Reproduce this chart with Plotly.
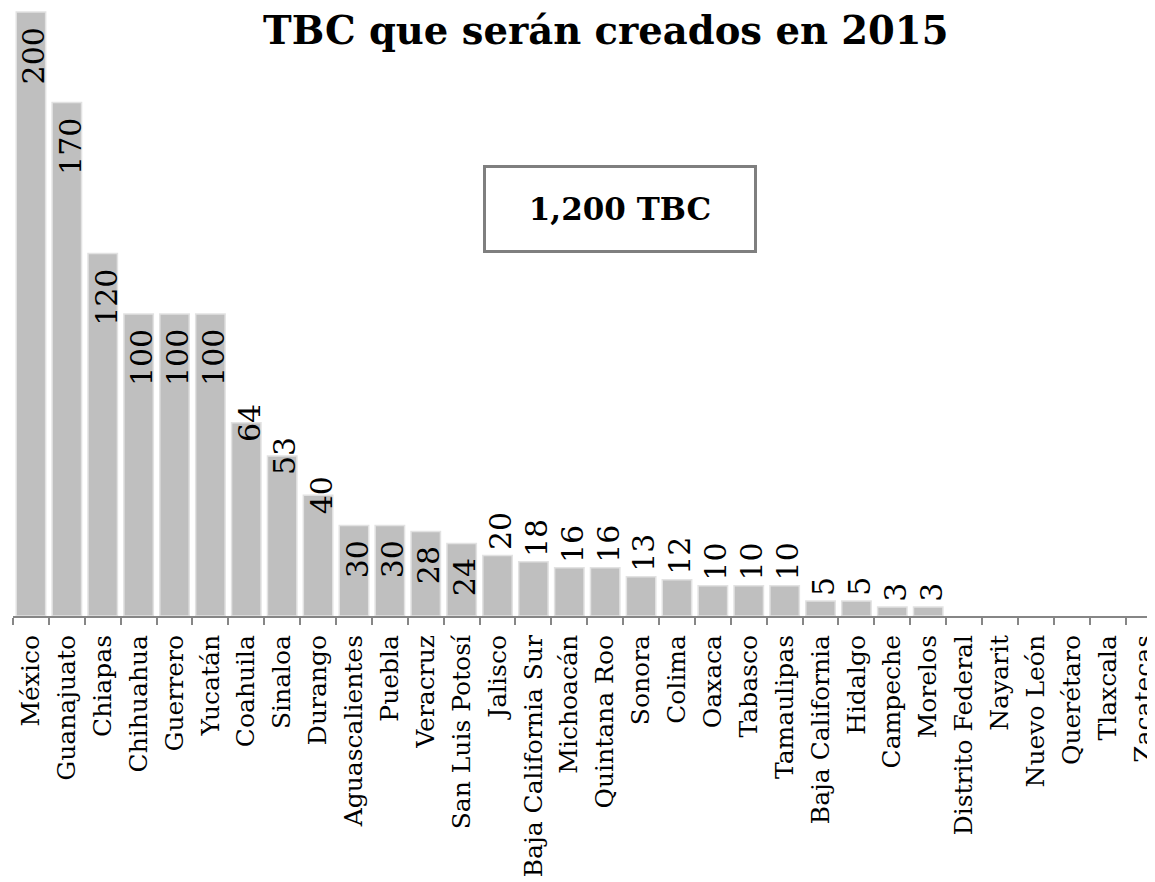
import plotly.graph_objects as go

states = ["México", "Guanajuato", "Chiapas", "Chihuahua", "Guerrero", "Yucatán",
          "Coahuila", "Sinaloa", "Durango", "Aguascalientes", "Puebla", "Veracruz",
          "San Luis Potosí", "Jalisco", "Baja California Sur", "Michoacán",
          "Quintana Roo", "Sonora", "Colima", "Oaxaca", "Tabasco", "Tamaulipas",
          "Baja California", "Hidalgo", "Campeche", "Morelos", "Distrito Federal",
          "Nayarit", "Nuevo León", "Querétaro", "Tlaxcala", "Zacatecas"]
tbc = [200, 170, 120, 100, 100, 100, 64, 53, 40, 30, 30, 28, 24, 20, 18, 16, 16,
       13, 12, 10, 10, 10, 5, 5, 3, 3, 0, 0, 0, 0, 0, 0]
title_text = "TBC que serán creados en 2015"
total_text = "1,200 TBC"

# page body has an 8px margin -> figure sized to fit the 1155x882 window
OFF = 8
W, H = 1155 - OFF, 882 - OFF
L, R, T, B = 12.7 - OFF, 0, 0, H - (616 - OFF)
SERIF = "DejaVu Serif"
plot_w = W - L - R
plot_h = H - T - B
cat_px = 35.9
x_end = -0.5 + plot_w / cat_px
y_top = plot_h / 3.02

fig = go.Figure()
fig.add_trace(go.Bar(
    x=states, y=tbc,
    marker=dict(color="#BFBFBF",
                line=dict(color="#E2E2E2", width=[1.5 if v > 0 else 0 for v in tbc])),
    width=0.82,
    hoverinfo="skip",
))

# data labels (rotated, Excel-like placement)
def label_mode(v):
    if v >= 100 or 24 <= v <= 30:
        return "inside"
    if 40 <= v <= 64:
        return "middle"
    return "outside"

for s, v in zip(states, tbc):
    if v <= 0:
        continue
    m = label_mode(v)
    if m == "inside":
        ya, ys = "top", -13
    elif m == "middle":
        ya, ys = "middle", 0
    else:
        ya, ys = "bottom", 3
    fig.add_annotation(x=s, y=v, xref="x", yref="y", text=str(v), showarrow=False,
                       textangle=-90, yanchor=ya, xanchor="center", yshift=ys, xshift=3,
                       font=dict(family=SERIF, size=30, color="#000000"))

def px_x(x):
    return (x - OFF - L) / plot_w

def px_y(y):
    return (plot_h - (y - OFF)) / plot_h

fig.add_annotation(xref="paper", yref="paper", x=px_x(620), y=px_y(208.5),
                   text="<b>" + total_text + "</b>", showarrow=False,
                   xanchor="center", yanchor="middle",
                   width=266, height=80, bordercolor="#7F7F7F", borderwidth=3,
                   bgcolor="#FFFFFF",
                   font=dict(family=SERIF, size=31, color="#000000"))

fig.add_annotation(xref="paper", yref="paper", x=px_x(605), y=px_y(30),
                   text="<b>" + title_text + "</b>", showarrow=False,
                   xanchor="center", yanchor="middle",
                   font=dict(family=SERIF, size=38.5, color="#000000"))

fig.update_layout(
    width=W, height=H,
    margin=dict(l=L, r=R, t=T, b=B, pad=0, autoexpand=False),
    paper_bgcolor="#FFFFFF", plot_bgcolor="#FFFFFF",
    showlegend=False,
    bargap=0.18,
    xaxis=dict(range=[-0.5, x_end], showline=True, linecolor="#868686", linewidth=2,
               ticks="outside", tickson="boundaries", ticklen=7, tickcolor="#868686",
               tickwidth=2, tickangle=-90, showgrid=False, zeroline=False,
               automargin=False, ticklabelstandoff=7,
               tickfont=dict(family=SERIF, size=25, color="#000000")),
    yaxis=dict(range=[0, y_top], visible=False, showgrid=False, zeroline=False,
               automargin=False),
)

fig.write_html("out.html")
